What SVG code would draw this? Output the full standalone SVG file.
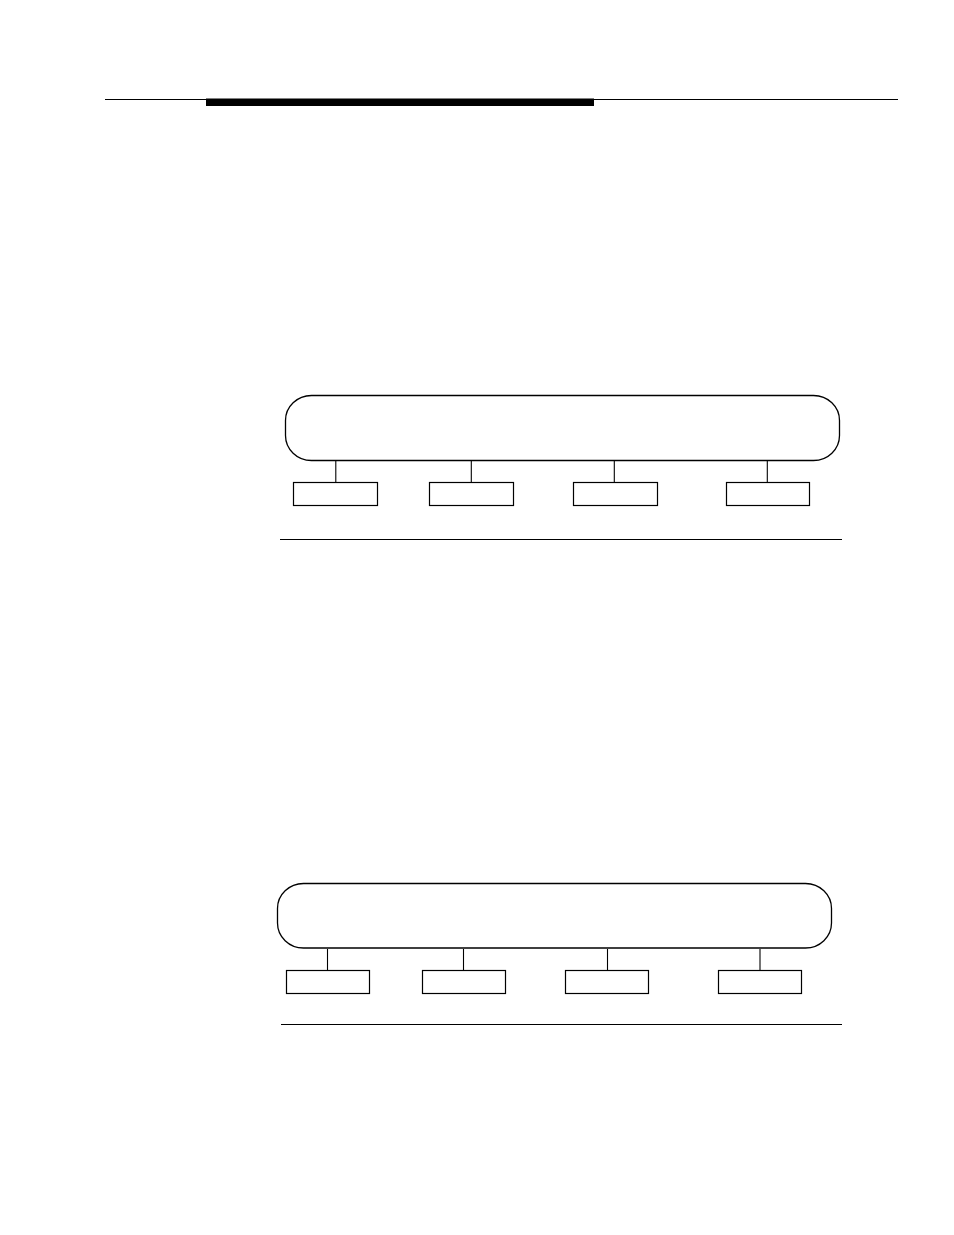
<svg xmlns="http://www.w3.org/2000/svg" width="954" height="1235" viewBox="0 0 954 1235">
<style>
.bus{fill:none;stroke:#000;stroke-width:1.3}
.box{fill:#fff;stroke:#000;stroke-width:1.2}
.ln{stroke:#000;stroke-width:1.1;fill:none}
</style>
<rect width="954" height="1235" fill="#fff"/>
<g id="header">
<line x1="105" y1="99.5" x2="898" y2="99.5" class="ln"/>
<rect x="206" y="98.5" width="388" height="7.5" fill="#000"/>
</g>
<g id="diagram1">
<g id="d1-bus"><rect x="285.5" y="395.5" width="554" height="65" rx="26" ry="25" class="bus"/></g>
<g id="d1-connectors">
<line x1="335.8" y1="461" x2="335.8" y2="482.5" class="ln"/>
<line x1="471.3" y1="461" x2="471.3" y2="482.5" class="ln"/>
<line x1="614.3" y1="461" x2="614.3" y2="482.5" class="ln"/>
<line x1="767.3" y1="461" x2="767.3" y2="482.5" class="ln"/>
</g>
<g id="d1-node1"><rect x="293.5" y="482.5" width="84" height="23" class="box"/></g>
<g id="d1-node2"><rect x="429.5" y="482.5" width="84" height="23" class="box"/></g>
<g id="d1-node3"><rect x="573.5" y="482.5" width="84" height="23" class="box"/></g>
<g id="d1-node4"><rect x="726.5" y="482.5" width="83" height="23" class="box"/></g>
<line x1="280" y1="539.5" x2="842" y2="539.5" class="ln"/>
</g>
<g id="diagram2">
<g id="d2-bus"><rect x="277.5" y="883.5" width="554" height="64.5" rx="26" ry="25" class="bus"/></g>
<g id="d2-connectors">
<line x1="327.5" y1="949" x2="327.5" y2="970.5" class="ln"/>
<line x1="463.5" y1="949" x2="463.5" y2="970.5" class="ln"/>
<line x1="607.5" y1="949" x2="607.5" y2="970.5" class="ln"/>
<line x1="760" y1="949" x2="760" y2="970.5" class="ln"/>
</g>
<g id="d2-node1"><rect x="286.5" y="970.5" width="83" height="23" class="box"/></g>
<g id="d2-node2"><rect x="422.5" y="970.5" width="83" height="23" class="box"/></g>
<g id="d2-node3"><rect x="565.5" y="970.5" width="83" height="23" class="box"/></g>
<g id="d2-node4"><rect x="718.5" y="970.5" width="83" height="23" class="box"/></g>
<line x1="281" y1="1024.5" x2="842" y2="1024.5" class="ln"/>
</g>
</svg>
